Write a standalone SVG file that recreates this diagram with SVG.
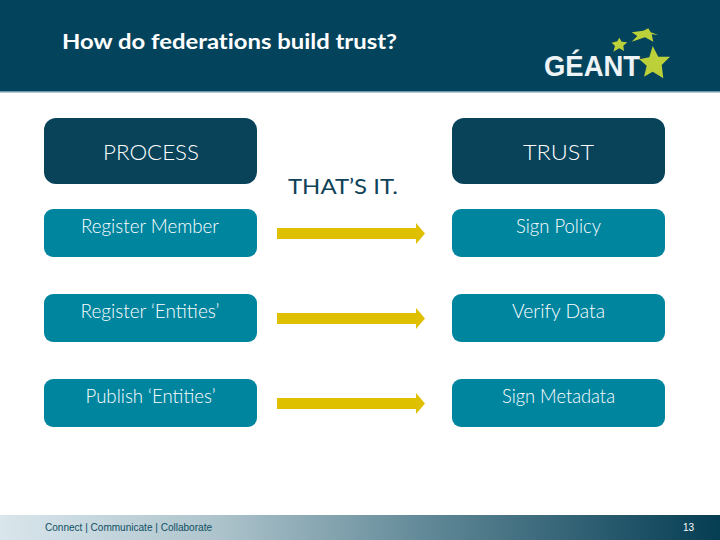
<svg xmlns="http://www.w3.org/2000/svg" width="720" height="540" viewBox="0 0 720 540">
<style>
text{font-family:"Lato","Open Sans","Liberation Sans",sans-serif}
.head{fill:#08435a}
.row{fill:#00859f}
.hl{fill:#fff;font-size:22px;font-weight:300;text-anchor:middle}
.rl{fill:#fff;font-size:19px;font-weight:300;text-anchor:middle}
.arrow{fill:#dfc000}
.star{fill:#bcd03a}
</style>
<defs>
<linearGradient id="foot" x1="0" y1="0" x2="1" y2="0">
<stop offset="0" stop-color="#d9e6ec"/>
<stop offset="0.3" stop-color="#aec4cc"/>
<stop offset="0.6" stop-color="#5f8796"/>
<stop offset="1" stop-color="#053d53"/>
</linearGradient>
</defs>
<rect width="720" height="540" fill="#fff"/>
<g id="header">
<rect width="720" height="91" fill="#03445c"/>
<rect y="91" width="720" height="1.5" fill="#6f98a8"/>
<text x="62" y="49" fill="#fff" font-size="21" font-weight="700" style="font-variant-ligatures:none" textLength="335" lengthAdjust="spacingAndGlyphs">How do federations build trust?</text>
</g>
<g id="logo">
<text x="544" y="75.500" fill="#eef3f5" style="font-family:'Liberation Sans',sans-serif" font-size="30" font-weight="700" textLength="96" lengthAdjust="spacingAndGlyphs">GÉANT</text>
<polygon class="star" points="652.700,46 658.300,56.700 670,56.700 661.700,65 663.300,78.300 652.700,71.700 644,76.700 646.700,65.700 639.300,59.300 649.300,57.300"/>
<polygon class="star" points="619.300,37.700 621.700,41.700 627.300,42.300 623.300,45.700 624,51 619.300,48.300 613.300,51.700 615,46 611.700,42.700 617.300,41.300"/>
<polygon class="star" points="631.700,32.300 643.300,30.700 648.300,28.300 650.700,32.300 658.300,35 651.700,34.300 653.300,41.700 645,37.300 631.700,41.700 637.300,36"/>
</g>
<g id="process">
<rect class="head" x="44" y="118" width="213" height="66" rx="12"/>
<text class="hl" x="151" y="160" textLength="96" lengthAdjust="spacingAndGlyphs">PROCESS</text>
</g>
<g id="trust">
<rect class="head" x="452" y="118" width="213" height="66" rx="12"/>
<text class="hl" x="558.500" y="160" textLength="71" lengthAdjust="spacingAndGlyphs">TRUST</text>
</g>
<text id="thats-it" x="288" y="194" fill="#0e4257" font-size="22" textLength="110" lengthAdjust="spacingAndGlyphs">THAT’S IT.</text>
<g id="register-member">
<rect class="row" x="44" y="209" width="213" height="48" rx="9"/>
<text class="rl" x="150" y="233" textLength="138" lengthAdjust="spacingAndGlyphs">Register Member</text>
</g>
<g id="register-entities">
<rect class="row" x="44" y="294" width="213" height="48" rx="9"/>
<text class="rl" x="150" y="318" textLength="139" lengthAdjust="spacingAndGlyphs">Register ‘Entities’</text>
</g>
<g id="publish-entities">
<rect class="row" x="44" y="379" width="213" height="48" rx="9"/>
<text class="rl" x="150.500" y="403" textLength="130" lengthAdjust="spacingAndGlyphs">Publish ‘Entities’</text>
</g>
<g id="sign-policy">
<rect class="row" x="452" y="209" width="213" height="48" rx="9"/>
<text class="rl" x="558.500" y="233" textLength="85" lengthAdjust="spacingAndGlyphs">Sign Policy</text>
</g>
<g id="verify-data">
<rect class="row" x="452" y="294" width="213" height="48" rx="9"/>
<text class="rl" x="558.500" y="318" textLength="93" lengthAdjust="spacingAndGlyphs">Verify Data</text>
</g>
<g id="sign-metadata">
<rect class="row" x="452" y="379" width="213" height="48" rx="9"/>
<text class="rl" x="558.500" y="403" textLength="113" lengthAdjust="spacingAndGlyphs">Sign Metadata</text>
</g>
<g id="connectors">
<polygon class="arrow" points="277,228 416,228 416,223 425,233.500 416,244 416,239 277,239"/>
<polygon class="arrow" points="277,313 416,313 416,308 425,318.500 416,329 416,324 277,324"/>
<polygon class="arrow" points="277,398 416,398 416,393 425,403.500 416,414 416,409 277,409"/>
</g>
<g id="footer">
<rect y="515" width="720" height="25" fill="url(#foot)"/>
<text x="45" y="531" fill="#0e4f63" style="font-family:'Liberation Sans',sans-serif" font-size="10" textLength="167" lengthAdjust="spacingAndGlyphs">Connect | Communicate | Collaborate</text>
<text x="683" y="531" fill="#fff" style="font-family:'Liberation Sans',sans-serif" font-size="10">13</text>
</g>
</svg>
